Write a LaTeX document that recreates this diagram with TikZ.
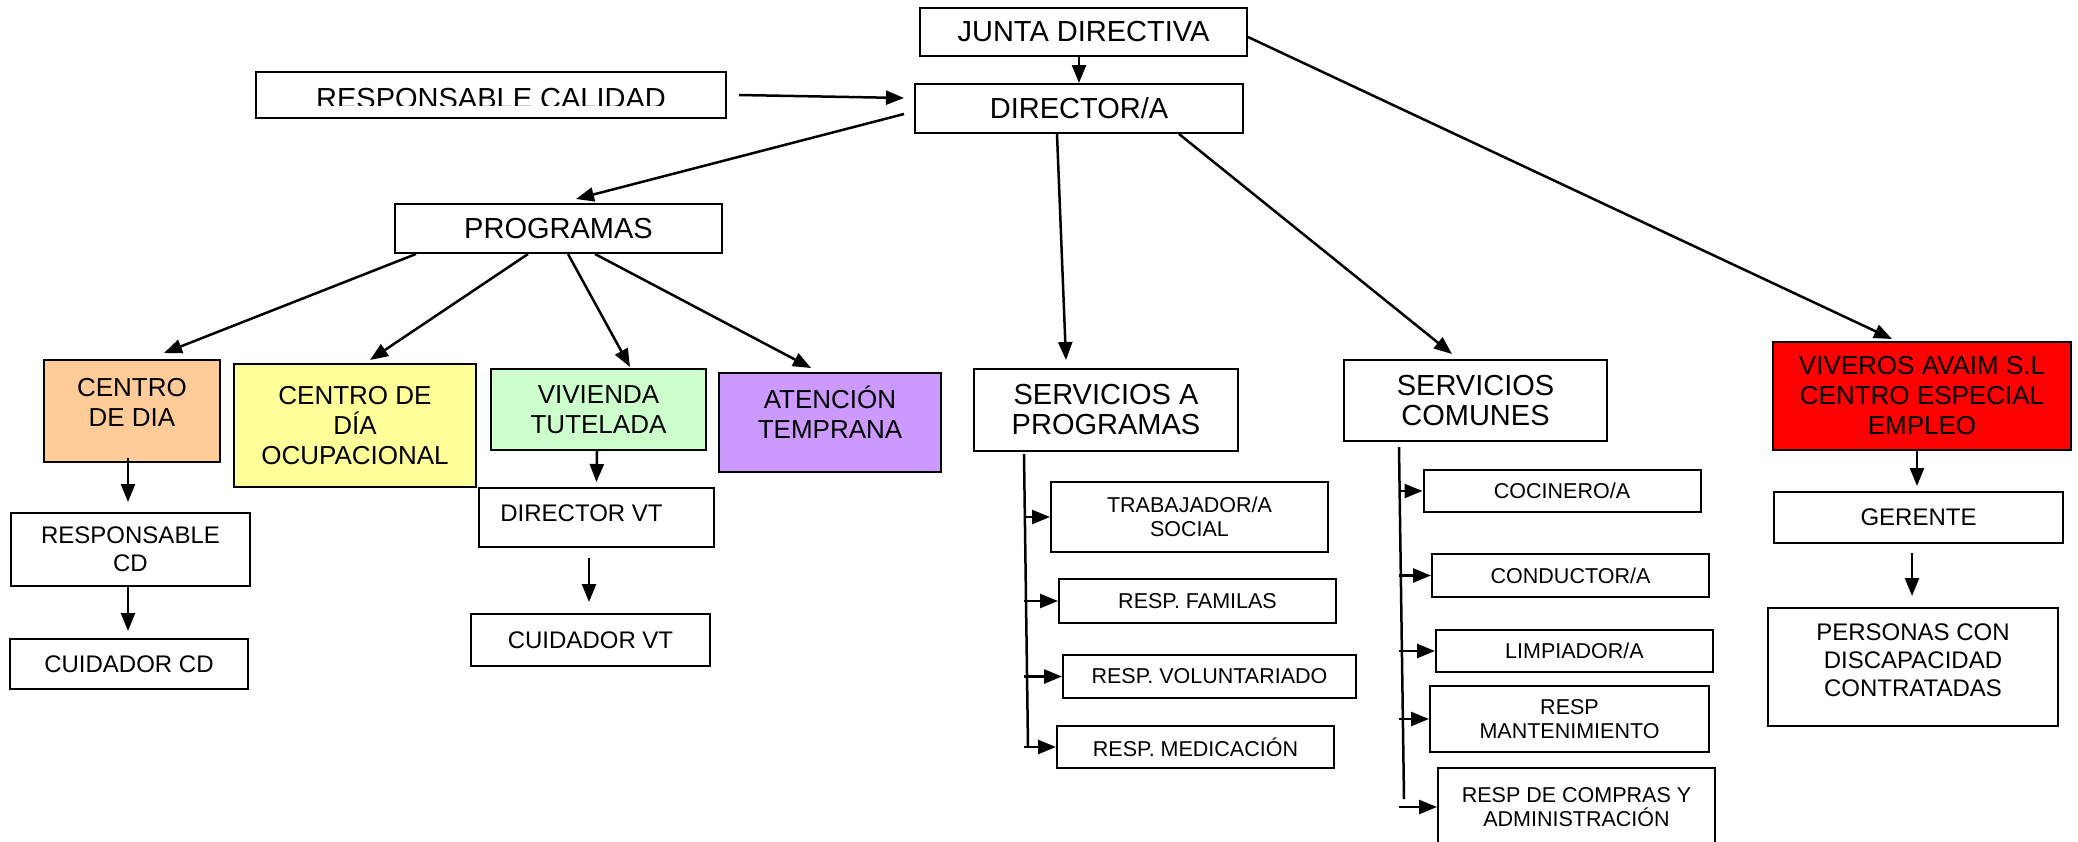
\documentclass[tikz,border=0pt]{standalone}
\usepackage{fontspec}
\setmainfont{Liberation Sans}
\usetikzlibrary{arrows.meta}
\definecolor{cdiaorange}{HTML}{FFCC99}
\definecolor{cdoyellow}{HTML}{FFFF99}
\definecolor{vtgreen}{HTML}{CCFFCC}
\definecolor{atpurple}{HTML}{CC99FF}
\definecolor{avaimred}{HTML}{FF0000}

\begin{document}
\begin{tikzpicture}
    \def\dx{0.5pt}
    \def\dy{-0.5pt}

    \tikzstyle{orgbox}=[draw=black,line width=1pt,inner sep=0pt,align=center]
    \tikzstyle{mainbox}=[orgbox,font=\fontsize{14.5}{15}\selectfont]
    \tikzstyle{unitbox}=[orgbox,font=\fontsize{13}{15}\selectfont]
    \tikzstyle{plainbox}=[orgbox,font=\fontsize{12}{14}\selectfont]
    \tikzstyle{staffbox}=[orgbox,font=\fontsize{10.75}{12}\selectfont]

    \useasboundingbox (0,0) rectangle (2078*\dx,841*\dy);

    % top of the chart
    \node[mainbox,minimum width=327*\dx,minimum height=48*\dx] (junta) at (1083.5*\dx,32*\dy) {JUNTA DIRECTIVA};
    \node[mainbox,minimum width=328*\dx,minimum height=49*\dx] (director) at (1079*\dx,108.5*\dy) {DIRECTOR/A};
    \node[orgbox,minimum width=470*\dx,minimum height=46*\dx] (calidad) at (491*\dx,95*\dy) {};
    \begin{scope}
      \clip (calidad.north west) rectangle ([yshift=14*\dx]calidad.south east);
      \node[font=\fontsize{14.5}{15}\selectfont,inner sep=0pt] (calidadtext) at ([yshift=-4*\dx]calidad.center) {RESPONSABLE CALIDAD};
    \end{scope}
    \node[mainbox,minimum width=327*\dx,minimum height=49*\dx] (programas) at (558.5*\dx,228.5*\dy) {PROGRAMAS};

    % programas
    \node[unitbox,fill=cdiaorange,minimum width=176*\dx,minimum height=102*\dx,text depth=9pt] (cdia) at (132*\dx,411*\dy) {CENTRO\\DE DIA};
    \node[unitbox,fill=cdoyellow,minimum width=242*\dx,minimum height=123*\dx] (ocupa) at (355*\dx,425.5*\dy) {CENTRO DE\\DÍA\\OCUPACIONAL};
    \node[unitbox,fill=vtgreen,minimum width=215*\dx,minimum height=81*\dx] (vivienda) at (598.5*\dx,409.5*\dy) {VIVIENDA\\TUTELADA};
    \node[unitbox,fill=atpurple,minimum width=222*\dx,minimum height=99*\dx,text depth=10pt] (atencion) at (830*\dx,422.5*\dy) {ATENCIÓN\\TEMPRANA};
    \node[plainbox,minimum width=239*\dx,minimum height=73*\dx] (respcd) at (130.5*\dx,549.5*\dy) {RESPONSABLE\\CD};
    \node[plainbox,minimum width=238*\dx,minimum height=50*\dx] (cuidcd) at (129*\dx,664*\dy) {CUIDADOR CD};
    \node[plainbox,minimum width=235*\dx,minimum height=59*\dx,text depth=4pt] (dirvt) at (596.5*\dx,517.5*\dy) {DIRECTOR VT\hspace*{15pt}};
    \node[plainbox,minimum width=239*\dx,minimum height=52*\dx] (cuidvt) at (590.5*\dx,640*\dy) {CUIDADOR VT};

    % servicios
    \node[mainbox,minimum width=264*\dx,minimum height=82*\dx] (servprog) at (1106*\dx,410*\dy) {SERVICIOS A\\PROGRAMAS};
    \node[mainbox,minimum width=263*\dx,minimum height=81*\dx] (servcom) at (1475.5*\dx,400.5*\dy) {SERVICIOS\\COMUNES};
    \node[staffbox,minimum width=277*\dx,minimum height=70*\dx] (trabajador) at (1189.5*\dx,517*\dy) {TRABAJADOR/A\\SOCIAL};
    \node[staffbox,minimum width=277*\dx,minimum height=44*\dx] (familias) at (1197.5*\dx,601*\dy) {RESP. FAMILAS};
    \node[staffbox,minimum width=293*\dx,minimum height=43*\dx] (voluntariado) at (1209.5*\dx,676.5*\dy) {RESP. VOLUNTARIADO};
    \node[staffbox,minimum width=277*\dx,minimum height=42*\dx] (medicacion) at (1195.5*\dx,747*\dy) {RESP. MEDICACIÓN};
    \node[staffbox,minimum width=277*\dx,minimum height=42*\dx] (cocinero) at (1562*\dx,491*\dy) {COCINERO/A};
    \node[staffbox,minimum width=277*\dx,minimum height=43*\dx] (conductor) at (1570.5*\dx,575.5*\dy) {CONDUCTOR/A};
    \node[staffbox,minimum width=277*\dx,minimum height=42*\dx] (limpiador) at (1574.5*\dx,651*\dy) {LIMPIADOR/A};
    \node[staffbox,minimum width=279*\dx,minimum height=66*\dx] (mantenimiento) at (1569.5*\dx,719*\dy) {RESP\\MANTENIMIENTO};
    \node[staffbox,minimum width=277*\dx,minimum height=78*\dx] (compras) at (1576.5*\dx,807*\dy) {RESP DE COMPRAS Y\\ADMINISTRACIÓN};

    % viveros
    \node[unitbox,fill=avaimred,minimum width=298*\dx,minimum height=108*\dx] (viveros) at (1922*\dx,396*\dy) {VIVEROS AVAIM S.L\\CENTRO ESPECIAL\\EMPLEO};
    \node[plainbox,minimum width=289*\dx,minimum height=51*\dx] (gerente) at (1918.5*\dx,517.5*\dy) {GERENTE};
    \node[plainbox,minimum width=290*\dx,minimum height=118*\dx,text depth=7pt] (personas) at (1913*\dx,667*\dy) {PERSONAS CON\\DISCAPACIDAD\\CONTRATADAS};

    \coordinate (sptop) at ([xshift=-82*\dx,yshift=-2*\dx]servprog.south);
    \coordinate (spend) at (1028*\dx,747*\dy);
    \coordinate (sctop) at ([xshift=-76.5*\dx,yshift=-5*\dx]servcom.south);
    \coordinate (scend) at (1404*\dx,799*\dy);

    \tikzstyle{fwd} = [draw=black, line width=1.25pt, -{Triangle[length=9pt,width=7pt]}]
    \tikzstyle{rail} = [draw=black, line width=1.25pt]

          \draw [fwd] (junta.south -| director.north) -- (director.north);
          \draw [fwd] ([xshift=12*\dx]calidad.east) -- ([xshift=-10*\dx,yshift=10.5*\dx]director.west);
          \draw [fwd] ([xshift=-10*\dx,yshift=-5.5*\dx]director.west) -- ([xshift=17.5*\dx,yshift=4*\dx]programas.north);
          \draw [fwd] ([xshift=-22*\dx]director.south) -- ([xshift=-40*\dx,yshift=8*\dx]servprog.north);
          \draw [fwd] ([xshift=100*\dx]director.south) -- ([xshift=-23.5*\dx,yshift=5*\dx]servcom.north);
          \draw [fwd] ([yshift=-5*\dx]junta.east) -- ([xshift=-30*\dx,yshift=2*\dx]viveros.north);

          \draw [fwd] ([xshift=-142.5*\dx]programas.south) -- ([xshift=32*\dx,yshift=6*\dx]cdia.north);
          \draw [fwd] ([xshift=-30.5*\dx]programas.south) -- ([xshift=15*\dx,yshift=3*\dx]ocupa.north);
          \draw [fwd] ([xshift=9.5*\dx]programas.south) -- ([xshift=31.5*\dx,yshift=1*\dx]vivienda.north);
          \draw [fwd] ([xshift=36.5*\dx]programas.south) -- ([xshift=-19*\dx,yshift=4*\dx]atencion.north);

          \draw [fwd] ([xshift=-4*\dx,yshift=5*\dx]cdia.south) -- ([xshift=-2.5*\dx,yshift=10*\dx]respcd.north);
          \draw [fwd] ([xshift=-2.5*\dx]respcd.south) -- ([xshift=-1*\dx,yshift=7*\dx]cuidcd.north);
          \draw [fwd] ([xshift=-1.5*\dx]vivienda.south) -- ([yshift=5*\dx]dirvt.north);
          \draw [fwd] ([xshift=-7.5*\dx,yshift=-10*\dx]dirvt.south) -- ([xshift=-1.5*\dx,yshift=11*\dx]cuidvt.north);

          \draw [fwd] ([xshift=-5*\dx]viveros.south) -- ([xshift=-1.5*\dx,yshift=5*\dx]gerente.north);
          \draw [fwd] ([xshift=-6.5*\dx,yshift=-9*\dx]gerente.south) -- ([xshift=-1*\dx,yshift=11*\dx]personas.north);

          \draw [rail] (sptop) -- (spend);
          \draw [fwd] (trabajador.west -| sptop) -- (trabajador.west);
          \draw [fwd] (familias.west -| sptop) -- (familias.west);
          \draw [fwd] (voluntariado.west -| sptop) -- (voluntariado.west);
          \draw [fwd] (medicacion.west -| sptop) -- (medicacion.west);

          \draw [rail] (sctop) -- (scend);
          \draw [fwd] (cocinero.west -| sctop) -- (cocinero.west);
          \draw [fwd] (conductor.west -| sctop) -- (conductor.west);
          \draw [fwd] (limpiador.west -| sctop) -- (limpiador.west);
          \draw [fwd] (mantenimiento.west -| sctop) -- (mantenimiento.west);
          \draw [fwd] (compras.west -| sctop) -- (compras.west);

  \end{tikzpicture}
\end{document}
